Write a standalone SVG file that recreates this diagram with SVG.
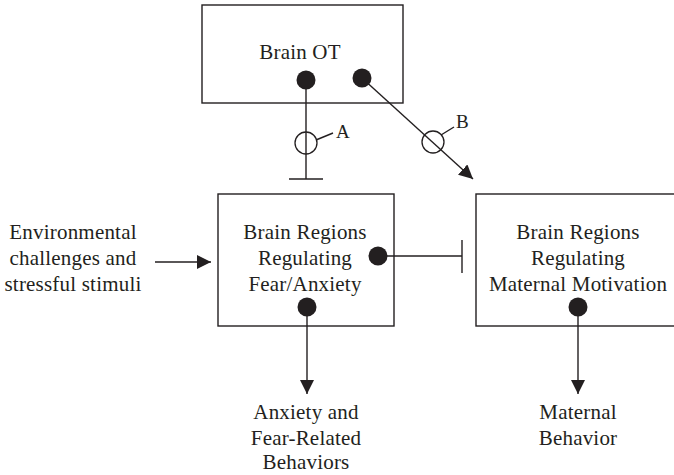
<svg xmlns="http://www.w3.org/2000/svg" width="674" height="475" viewBox="0 0 674 475">
  <style>
    .box { fill: #ffffff; stroke: #231f20; stroke-width: 1.4; }
    .ln { fill: none; stroke: #231f20; stroke-width: 1.4; }
    .ring { fill: none; stroke: #231f20; stroke-width: 1.3; }
    .dot { fill: #231f20; }
    text { font-family: "Liberation Serif", "Times New Roman", serif; font-size: 21px; letter-spacing: 0.2px; fill: #231f20; text-anchor: middle; }
    .lbl { text-anchor: start; font-size: 19px; }
  </style>
  <defs>
    <marker id="arrow" markerUnits="userSpaceOnUse" markerWidth="14" markerHeight="14" viewBox="0 0 12 12" refX="12" refY="6" orient="auto">
      <path d="M0,0 L12,6 L0,12 Z" fill="#231f20"/>
    </marker>
  </defs>

  <rect width="674" height="475" fill="#ffffff"/>

  <g id="brain-ot">
    <rect class="box" x="202" y="5" width="201" height="98"/>
    <text x="300" y="59">Brain OT</text>
  </g>

  <g id="fear-anxiety">
    <rect class="box" x="218" y="194" width="176" height="132"/>
    <text x="305" y="239">Brain Regions</text>
    <text x="305" y="265">Regulating</text>
    <text x="305" y="291">Fear/Anxiety</text>
  </g>

  <g id="maternal-motivation">
    <rect class="box" x="476" y="194" width="204" height="132"/>
    <text x="578" y="239">Brain Regions</text>
    <text x="578" y="265">Regulating</text>
    <text x="578" y="291">Maternal Motivation</text>
  </g>

  <g id="environment">
    <text x="73" y="239">Environmental</text>
    <text x="73" y="265">challenges and</text>
    <text x="73" y="291">stressful stimuli</text>
  </g>

  <g id="anxiety-behaviors">
    <text x="306" y="419">Anxiety and</text>
    <text x="306" y="445">Fear-Related</text>
    <text x="306" y="469">Behaviors</text>
  </g>

  <g id="maternal-behavior">
    <text x="578" y="419">Maternal</text>
    <text x="578" y="445">Behavior</text>
  </g>

  <g id="connectors">
    <!-- A: Brain OT inhibits fear/anxiety regions -->
    <line class="ln" x1="306" y1="80" x2="306" y2="179"/>
    <line class="ln" x1="289" y1="179" x2="323" y2="179"/>
    <circle class="ring" cx="306" cy="143" r="11"/>
    <line class="ln" x1="316" y1="140" x2="333" y2="133"/>
    <text class="lbl" x="336" y="138">A</text>
    <circle class="dot" cx="306" cy="80" r="9.5"/>

    <!-- B: Brain OT drives maternal motivation regions -->
    <line class="ln" x1="362" y1="78" x2="473" y2="179" marker-end="url(#arrow)"/>
    <circle class="ring" cx="433" cy="142" r="11"/>
    <line class="ln" x1="441" y1="135" x2="454" y2="127"/>
    <text class="lbl" x="456" y="128">B</text>
    <circle class="dot" cx="362" cy="78" r="9.5"/>

    <!-- stressors into fear/anxiety regions -->
    <line class="ln" x1="155" y1="262" x2="211" y2="262" marker-end="url(#arrow)"/>

    <!-- fear/anxiety regions inhibit maternal motivation regions -->
    <line class="ln" x1="378" y1="256" x2="462" y2="256"/>
    <line class="ln" x1="462" y1="240" x2="462" y2="273"/>
    <circle class="dot" cx="378" cy="256" r="9.5"/>

    <!-- outputs -->
    <line class="ln" x1="307" y1="307" x2="307" y2="394" marker-end="url(#arrow)"/>
    <circle class="dot" cx="307" cy="307" r="9.5"/>
    <line class="ln" x1="578" y1="307" x2="578" y2="394" marker-end="url(#arrow)"/>
    <circle class="dot" cx="578" cy="307" r="9.5"/>
  </g>
</svg>
